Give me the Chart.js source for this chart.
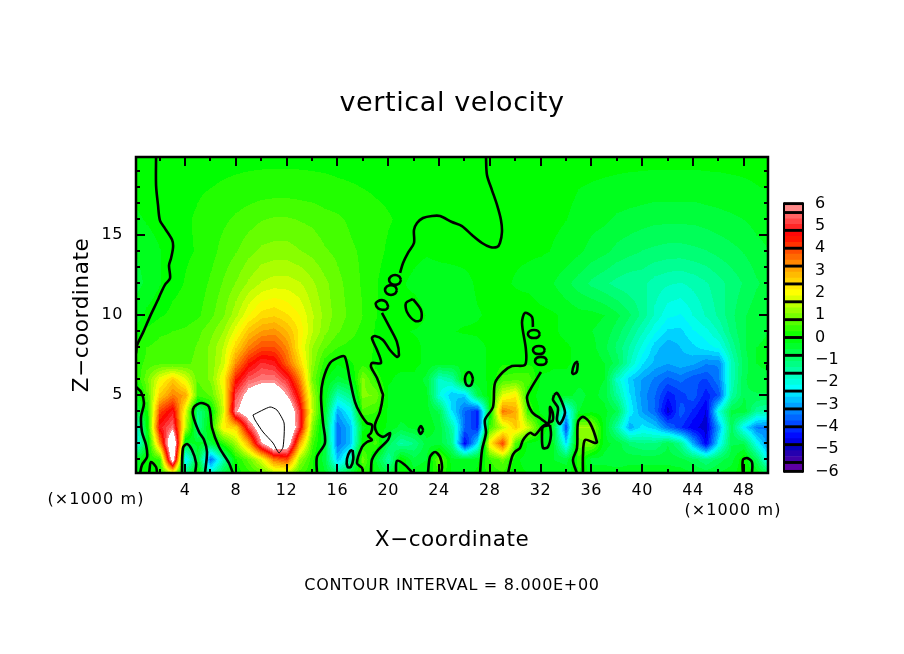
<!DOCTYPE html>
<html>
<head>
<meta charset="utf-8">
<title>vertical velocity</title>
<script src="https://cdn.jsdelivr.net/npm/chart.js@4"></script>
<style>
  html, body { margin: 0; padding: 0; background: #fff; }
  #wrap { position: relative; width: 904px; height: 654px; overflow: hidden; }
  #main { position: absolute; left: 0; top: 0; }
  #bar { position: absolute; left: 770px; top: 190px; }
</style>
</head>
<body>
<div id="wrap">
  <canvas id="main" width="904" height="654"></canvas>
  <canvas id="bar" width="70" height="295"></canvas>
</div>
<script>
// grid nodes, km
const xNodes = [0,1,2,3,4,5,6,7,8,9,10,11,12,13,14,15,16,17,18,19,20,21,22,23,24,25,26,27,28,29,30,31,32,33,34,35,36,37,38,39,40,41,42,43,44,45,46,47,48,49,50];
const zNodes = [0,1,2,3,4,5,6,7,8,9,10,12,14,16,18,20];

// velocity, one list per height
const w00 = [-.2,-.1,.1,.7,-.8,.1,-1.5,-.5,-.05,.2,.5,1,1,.4,.1,-.3,-.9,-.4,.2,-.1,-.5,.05,-.2,-.1,.3,-.1,-.2,-.05,.2,.3,-.05,-.1,-.2,-.2,-.2,.1,-.2,-.2,-.2,-.2,-.2,-.2,-.2,-.2,-.3,-.4,-.3,-.2,.1,-.1,-.6];
const w01 = [-.3,.05,.4,7,-2.5,-.5,-3.5,-1.5,.1,.8,1.8,3.5,4,1.2,.2,-.6,-2.8,-1.5,.8,-.4,-1.5,.1,-.6,-.4,.8,-.3,-.4,-.2,.4,.8,-.05,-.3,-.4,-.4,-.5,.3,-.5,-.5,-.6,-.5,-.5,-.5,-.5,-.6,-.8,-1.2,-.8,-.5,.1,-.8,-2.5];
const w02 = [-2.5,-.4,3.2,8,-.5,-.3,-.5,.3,1.3,3,5.9,7.5,7,3,.5,-.5,-3.5,-2.8,.1,.5,-.8,-1.5,-1.2,-.5,-.5,-1.2,-4.5,-2.5,2.2,4,.6,-.2,-.3,-.4,-2.5,.8,1,-.3,-.5,-1,-1.2,-1.2,-.7,-1.3,-3,-4.6,-2.4,-.7,-.7,-2.2,-3.4];
const w03 = [-2.2,-.1,4.8,5.6,1.5,-1.3,.1,2.2,2.5,5.2,7,8,8,5,1,-.7,-3.5,-2.8,-.2,.1,-.2,-.5,-.3,-.2,-.5,-1.5,-3.6,-4.2,.5,1.5,2.6,1.6,.2,-.5,-3.8,1.2,1.2,-.3,-1.5,-3,-2.4,-2.7,-3.5,-4.1,-4.6,-4.8,-3,-.8,-2.4,-3.4,-3.4];
const w04 = [-.8,.1,4,4.8,1.8,-1.2,-.2,1.7,5.9,7,8,8.5,7.5,5,1.5,-.4,-3,-2.2,.6,.4,-.2,-.2,-.3,-.3,-.7,-2.5,-3.6,-4.2,-.2,3.5,3,.4,-.2,-.2,-2.5,-.4,-.2,-.3,-.7,-2.3,-3.1,-3.6,-4.8,-3.7,-4.2,-4.7,-2,-.6,-.5,-1.4,-1.6];
const w05 = [-.5,.6,2.6,3.4,3,.5,.7,1.8,5.3,6.5,7,7,6,4.2,1.3,-.2,-1.7,-1.2,1,.9,-.2,-.2,-.2,-.3,-2,-2.8,-2.7,-.7,.05,1.8,2.2,.1,-.3,-.3,-.3,-.5,-.3,-.5,-1.4,-2.5,-3.2,-3.6,-4.3,-4,-3.7,-4.3,-3.8,-1.5,-.7,-.7,-.7];
const w06 = [0,.9,1.9,2.6,1.8,.7,1,2.1,4.4,5.4,5.7,5.7,5,3.4,.9,-.1,-.5,-.3,1,.3,-.1,-.2,-.2,-.5,-1.8,-1.5,.05,-.2,-.1,.5,.6,.6,-.2,-.2,-.2,-.3,-.3,-.4,-1.8,-2.7,-3.1,-3.4,-3.7,-3.5,-3.8,-3.9,-3.4,-1.7,-.7,-.5,-.5];
const w07 = [.2,.5,.6,.55,.6,.75,1,1.6,3.3,4.4,5,4.8,3.7,2.5,1.1,.25,-.1,.1,.3,.05,-.1,-.05,-.05,-.2,-.3,-.3,-.3,-.2,-.1,.1,.1,.1,0,-.1,-.1,-.2,-.2,-.4,-.8,-1.7,-2.5,-2.9,-3.05,-2.9,-3,-3.3,-3.3,-1.7,-.8,-.4,-.3];
const w08 = [.1,.4,.5,.5,.55,.7,1,1.5,2.5,3.4,3.9,3.9,3.3,2.1,1.2,.7,.4,.3,.25,.1,.02,0,-.05,-.2,-.3,-.3,-.3,-.2,-.1,-.05,.05,.1,0,-.05,-.1,-.2,-.3,-.6,-1,-1.5,-2.1,-2.7,-3,-2.8,-2.6,-2.4,-2.2,-1.4,-.7,-.4,-.3];
const w09 = [-.1,.2,.35,.4,.45,.6,.85,1.2,1.9,2.7,3.1,3.2,2.8,2.2,1.5,1,.7,.5,.3,.1,0,-.1,-.15,-.2,-.2,-.15,-.1,-.1,-.05,-.05,-.05,.05,-.02,-.1,-.2,-.25,-.4,-.5,-.8,-1.2,-1.7,-2.2,-2.6,-2.6,-2.3,-2.1,-1.7,-1.1,-.7,-.5,-.4];
const w10 = [-.3,-.05,.1,.2,.25,.35,.6,.9,1.4,2,2.4,2.5,2.3,2,1.5,1.1,.8,.6,.4,.15,0,-.1,.02,-.15,-.2,-.2,-.2,-.15,-.1,-.05,-.03,.02,-.05,-.1,-.2,-.3,-.3,-.4,-.6,-.9,-1.3,-1.8,-2.2,-2.3,-2,-1.7,-1.4,-1,-.7,-.5,-.4];
const w12 = [-.5,-.35,-.15,.05,.15,.25,.45,.7,.95,1.25,1.5,1.6,1.6,1.5,1.25,1,.75,.55,.35,.15,.02,-.1,-.2,-.3,-.3,-.25,-.2,-.1,-.1,-.1,-.15,-.2,-.3,-.4,-.6,-.8,-1,-1.15,-1.3,-1.4,-1.4,-1.6,-1.7,-1.75,-1.65,-1.5,-1.3,-1.1,-.9,-.7,-.55];
const w14 = [-.4,-.3,-.15,.02,.1,.15,.3,.5,.65,.85,1,1.05,1.05,.95,.85,.7,.6,.45,.35,.2,.1,.02,-.05,-.1,-.05,-.05,-.05,-.05,-.05,-.1,-.1,-.1,-.1,-.15,-.2,-.35,-.5,-.6,-.75,-.85,-.95,-1,-1.05,-1.05,-1,-.95,-.85,-.75,-.65,-.5,-.4];
const w16 = [-.2,-.1,0,.05,.1,.17,.27,.35,.45,.55,.65,.7,.7,.65,.6,.5,.45,.35,.25,.2,.15,.1,.05,0,0,0,0,0,0,-.05,-.05,-.05,-.05,-.1,-.13,-.2,-.3,-.35,-.45,-.5,-.55,-.6,-.6,-.6,-.6,-.55,-.5,-.45,-.4,-.3,-.25];
const w18 = [-.05,.02,.05,.05,.05,.1,.13,.16,.19,.22,.24,.25,.25,.24,.22,.2,.17,.15,.13,.1,.08,.05,.05,.03,.03,0,0,0,-.03,-.03,-.03,-.03,-.03,-.05,-.08,-.13,-.15,-.17,-.19,-.21,-.22,-.24,-.24,-.24,-.24,-.22,-.21,-.19,-.17,-.14,-.12];
const w20 = [-.03,-.02,.05,.05,.05,.05,.05,.05,.05,.05,.05,.05,.05,.05,.05,.05,.05,.05,.05,.05,.05,.05,.05,.05,.05,.05,.05,.05,-.05,-.05,-.05,-.05,-.05,-.05,-.05,-.05,-.05,-.05,-.05,-.05,-.05,-.05,-.05,-.05,-.05,-.05,-.05,-.05,-.05,-.05,-.05];
const gridRows = [w00,w01,w02,w03,w04,w05,w06,w07,w08,w09,w10,w12,w14,w16,w18,w20];

// zero contours, [x km, z km]
const c0Left = [[1.72,19.9],[1.72,18.1],[1.87,16.9],[2.03,15.9],[2.43,15.4],[2.98,14.7],[3.06,14.25],[2.9,13.55],[2.74,13.1],[2.82,12.3],[2.43,11.9],[2.03,11.25],[1.87,10.95],[1.24,9.9],[.69,8.9],[.22,8.1],[.14,7.6]];
const c0Edge = [[.14,5.5],[.54,5.19],[.77,4.5],[.54,3.63],[.61,2.69],[.93,1.88],[1.01,1.13],[.61,.63],[.46,.1]];
const c0Arch1 = [[1.17,.1],[1.32,.81],[1.72,.5],[1.8,.1]];
const c0Arch2 = [[3.76,.1],[3.84,1.69],[4.16,1.94],[4.55,1.56],[4.87,.75],[4.79,.1]];
const c0Arch3 = [[5.57,.1],[5.73,1.44],[5.5,2.19],[5.1,2.69],[4.63,3.75],[4.71,4.25],[5.26,4.5],[5.89,4.25],[6.13,2.94],[6.68,1.75],[7.46,.75],[7.78,.1]];
const c0Arch4 = [[14.39,.1],[14.39,1.13],[15.02,2],[14.87,3.25],[14.71,4.88],[14.87,5.94],[15.42,7],[16.2,7.38],[16.6,7.38],[16.99,5.94],[17.39,4.56],[17.78,3.88],[18.33,3.25],[18.72,3.13],[18.65,2.63],[18.41,2.44],[18.72,2.19],[18.33,2.06],[17.94,1.75],[17.54,.75],[17.94,.44],[18.02,.1]];
const c0Wiggle = [[18.65,.1],[18.72,.94],[19.2,1.56],[19.98,2.19],[20.14,2.63],[19.59,2.38],[19.12,2.63],[18.96,3.13],[19.35,3.94],[19.59,5],[19.51,5.19],[19.12,6.06],[18.65,6.75],[18.72,7],[19.43,7],[19.12,7.81],[18.72,8.56],[18.96,8.69],[19.59,8.44],[20.14,7.81],[20.69,7.38],[20.85,7.5],[20.69,8.31],[20.14,9.19],[19.51,10.13]];
const c0Top = [[27.7,19.9],[27.78,18.75],[28.17,17.81],[28.57,16.88],[28.88,15.94],[28.96,15.19],[28.8,14.5],[28.57,14.25],[28.02,14.25],[27.39,14.5],[26.6,15],[25.81,15.56],[25.02,15.81],[24.08,16.19],[23.45,16.19],[22.74,16.06],[22.27,15.75],[22.03,15.31],[22.03,14.5],[21.56,13.88],[21.17,13.25],[20.93,12.63]];
const c0Loop1 = [[21.01,12.19],[20.87,12.41],[20.54,12.5],[20.21,12.41],[20.07,12.19],[20.21,11.97],[20.54,11.88],[20.87,11.97],[21.01,12.19]];
const c0Loop2 = [[20.69,11.56],[20.55,11.78],[20.22,11.87],[19.89,11.78],[19.75,11.56],[19.89,11.34],[20.22,11.25],[20.55,11.34],[20.69,11.56]];
const c0Loop3 = [[20.01,10.5],[19.85,10.8],[19.51,10.93],[19.17,10.85],[19.01,10.7],[19.2,10.42],[19.51,10.33],[19.85,10.35],[20.01,10.5]];
const c0Loop4 = [[21.95,11],[22.58,10.31],[22.58,9.69],[22.11,9.63],[21.48,10.19],[21.4,10.75],[21.95,11]];
const c0Loop5 = [[17.2,1.55],[17.25,1],[17.05,.5],[16.8,.5],[16.75,1],[17,1.5],[17.2,1.55]];
const c0Loop6 = [[26.68,6],[26.55,6.3],[26.36,6.44],[26.15,6.3],[26.04,6],[26.15,5.65],[26.36,5.56],[26.55,5.65],[26.68,6]];
const c0Loop7 = [[22.76,2.81],[22.58,3.06],[22.4,2.81],[22.58,2.56],[22.76,2.81]];
const c0Arch5 = [[20.61,.1],[20.69,.88],[21.32,.63],[21.95,.1]];
const c0Arch6 = [[23.13,.1],[23.29,1.13],[23.69,1.44],[24.08,1.13],[24.24,.5],[24.16,.1]];
const c0Big1 = [[27.23,.1],[27.39,1.56],[27.7,2.63],[27.62,3.44],[28.25,4.25],[28.41,5.75],[29.04,6.44],[29.75,6.81],[30.77,6.88],[30.85,7.81],[30.54,9.5],[30.77,10.13],[31.32,9.88],[31.4,9.25]];
const c0Big2 = [[32.03,6.44],[31.17,5.31],[30.93,4.81],[31.32,3.94],[31.95,3.56],[32.58,3.25],[32.74,3.75],[32.74,4.25],[32.95,3.9],[32.95,3.4],[32.58,3.25],[32.11,3],[31.56,2.5],[31.17,2.63],[30.62,2.19],[30.38,1.69],[29.98,1.44],[29.75,1.13],[29.43,.1]];
const c0Loop8 = [[32.74,3.13],[32.82,2.5],[32.58,1.75],[32.19,1.69],[32.11,2.5],[32.19,3],[32.74,3.13]];
const c0Leaf = [[33.06,5],[33.29,5.13],[33.68,4.56],[33.92,3.88],[33.53,3.19],[33.29,3.44],[33.37,4.19],[32.98,4.69],[33.06,5]];
const c0Arch7 = [[34.87,.1],[34.55,.94],[34.87,1.69],[34.95,3.31],[35.34,3.63],[35.89,3.25],[36.44,2.06],[36.29,2],[35.5,2.19],[35.34,1.25],[35.34,.1]];
const c0Loop9 = [[31.95,8.81],[31.8,9],[31.48,9.06],[31.15,9],[31,8.81],[31.15,8.62],[31.48,8.56],[31.8,8.62],[31.95,8.81]];
const c0Loop10 = [[32.34,7.81],[32.2,8],[31.87,8.06],[31.54,8],[31.4,7.81],[31.54,7.62],[31.87,7.56],[32.2,7.62],[32.34,7.81]];
const c0Loop11 = [[32.5,7.13],[32.36,7.32],[32.03,7.38],[31.7,7.32],[31.56,7.13],[31.7,6.94],[32.03,6.88],[32.36,6.94],[32.5,7.13]];
const c0Loop12 = [[34.93,7],[34.85,7.07],[34.65,6.9],[34.49,6.4],[34.6,6.31],[34.85,6.45],[34.93,7]];
const c0Arch8 = [[47.93,.1],[47.93,.94],[48.25,1.06],[48.65,.81],[48.65,.1]];
const c0Edge2 = [[49.85,6.9],[49.85,6.55]];
const zeroContours = [c0Left,c0Edge,c0Arch1,c0Arch2,c0Arch3,c0Arch4,c0Wiggle,c0Top,c0Loop1,c0Loop2,c0Loop3,c0Loop4,c0Loop5,c0Loop6,c0Loop7,c0Arch5,c0Arch6,c0Big1,c0Big2,c0Loop8,c0Leaf,c0Arch7,c0Loop9,c0Loop10,c0Loop11,c0Loop12,c0Arch8,c0Edge2];

// the +8 contour inside the white core
const c8Core = [[9.35,3.75],[10.69,4.25],[11.24,4.06],[11.8,3.25],[11.72,1.75],[11.4,1.38],[10.93,2],[10.14,2.69],[9.51,3.44],[9.35,3.75]];

// axis ticks
const xTickValues = [2,4,6,8,10,12,14,16,18,20,22,24,26,28,30,32,34,36,38,40,42,44,46,48];
const xMajorTicks = [4,8,12,16,20,24,28,32,36,40,44,48];
const zTickValues = [1,2,3,4,5,6,7,8,9,10,11,12,13,14,15,16,17,18,19];
const zMajorTicks = [5,10,15];

// colour key
const barLabels = [-6,-5,-4,-3,-2,-1,0,1,2,3,4,5,6];
const barEdges = [-6,-5.6,-4.8,-4,-3.2,-2.4,-1.6,-.8,0,.8,1.6,2.4,3.2,4,4.8,5.6,6];

const stopValues = [-6,-5.3,-4.9,-4.5,-3,-2.3,-1,0,2,3,4.6,6];
const stopColors = [[110,0,160],[50,0,170],[0,0,190],[0,0,255],[0,170,255],[0,255,255],[0,255,110],[0,255,0],[255,255,0],[255,170,0],[255,0,0],[255,160,160]];
const bandStep = 0.8 / 3;

function rampColor(v) {
  if (v > 6) return [255, 255, 255];
  if (v < -6) return [70, 0, 110];
  let k = 0;
  while (k < stopValues.length - 2 && v > stopValues[k + 1]) k++;
  const t = (v - stopValues[k]) / (stopValues[k + 1] - stopValues[k]);
  return stopColors[k].map((c, n) => Math.round(c + (stopColors[k + 1][n] - c) * t));
}

// value -> colour of its shaded band
function bandColor(v) {
  if (v > 6 || v < -6) return rampColor(v);
  return rampColor(Math.round(v / bandStep) * bandStep);
}

const toPoints = line => line.map(p => ({ x: p[0], y: p[1] }));
const FONT = '"DejaVu Sans", sans-serif';

// paints the field between the node elements the library has placed
const shadePlugin = {
  id: 'shade',
  beforeDraw(chart) {
    chart.ctx.letterSpacing = '0.6px';
  },
  beforeDatasetsDraw(chart) {
    const nodes = chart.getDatasetMeta(0).data;
    const area = chart.chartArea;
    const nx = xNodes.length;
    const off = document.createElement('canvas');
    off.width = chart.width;
    off.height = chart.height;
    const octx = off.getContext('2d');
    const img = octx.createImageData(off.width, off.height);
    for (let j = 0; j < zNodes.length - 1; j++) {
      for (let i = 0; i < nx - 1; i++) {
        const p00 = nodes[j * nx + i], p10 = nodes[j * nx + i + 1], p01 = nodes[(j + 1) * nx + i];
        const a = gridRows[j][i], b = gridRows[j][i + 1], c = gridRows[j + 1][i], d = gridRows[j + 1][i + 1];
        const left = Math.max(Math.floor(p00.x), Math.floor(area.left));
        const right = Math.min(Math.ceil(p10.x), Math.ceil(area.right));
        const top = Math.max(Math.floor(p01.y), Math.floor(area.top));
        const bottom = Math.min(Math.ceil(p00.y), Math.ceil(area.bottom));
        for (let py = top; py <= bottom; py++) {
          const ty = Math.min(1, Math.max(0, (p00.y - py) / (p00.y - p01.y)));
          for (let px = left; px <= right; px++) {
            const tx = Math.min(1, Math.max(0, (px - p00.x) / (p10.x - p00.x)));
            const v = (a * (1 - tx) + b * tx) * (1 - ty) + (c * (1 - tx) + d * tx) * ty;
            const col = bandColor(v);
            const at = (py * off.width + px) * 4;
            img.data[at] = col[0];
            img.data[at + 1] = col[1];
            img.data[at + 2] = col[2];
            img.data[at + 3] = 255;
          }
        }
      }
    }
    octx.putImageData(img, 0, 0);
    const ctx = chart.ctx;
    ctx.save();
    ctx.beginPath();
    ctx.rect(area.left, area.top, area.right - area.left, area.bottom - area.top);
    ctx.clip();
    ctx.drawImage(off, 0, 0);
    ctx.restore();
  }
};

// frame, inward ticks and the loose captions
const framePlugin = {
  id: 'frame',
  afterDraw(chart) {
    const { ctx, chartArea: area, scales } = chart;
    ctx.save();
    ctx.strokeStyle = '#000';
    ctx.lineWidth = 2;
    ctx.beginPath();
    for (const v of xTickValues) {
      const px = Math.round(scales.x.getPixelForValue(v));
      const len = xMajorTicks.includes(v) ? 9 : 4;
      ctx.moveTo(px, area.bottom); ctx.lineTo(px, area.bottom - len);
      ctx.moveTo(px, area.top); ctx.lineTo(px, area.top + len);
    }
    for (const v of zTickValues) {
      const py = Math.round(scales.y.getPixelForValue(v));
      const len = zMajorTicks.includes(v) ? 9 : 4;
      ctx.moveTo(area.left, py); ctx.lineTo(area.left + len, py);
      ctx.moveTo(area.right, py); ctx.lineTo(area.right - len, py);
    }
    ctx.stroke();
    ctx.lineWidth = 2.5;
    ctx.strokeRect(area.left, area.top, area.right - area.left, area.bottom - area.top);

    ctx.fillStyle = '#000';
    ctx.textBaseline = 'middle';
    ctx.textAlign = 'center';
    ctx.font = '16px ' + FONT;
    ctx.letterSpacing = '1.1px';
    ctx.fillText('(×1000 m)', 96, 500);
    ctx.fillText('(×1000 m)', 733, 511);
    ctx.letterSpacing = '0.7px';
    ctx.fillText('CONTOUR INTERVAL = 8.000E+00', 452, 586);
    ctx.restore();
  }
};

const datasets = [{
  label: 'w',
  data: zNodes.flatMap((z, j) => xNodes.map((x, i) => ({ x: x, y: z, w: gridRows[j][i] }))),
  pointRadius: 0,
  showLine: false
}];
for (const line of zeroContours) {
  datasets.push({ data: toPoints(line), showLine: true, pointRadius: 0, borderColor: '#000', borderWidth: 2.6, tension: 0.3 });
}
datasets.push({ data: toPoints(c8Core), showLine: true, pointRadius: 0, borderColor: '#000', borderWidth: 1, tension: 0.2 });

new Chart(document.getElementById('main'), {
  type: 'scatter',
  data: { datasets },
  plugins: [shadePlugin, framePlugin],
  options: {
    responsive: false,
    animation: false,
    devicePixelRatio: 1,
    events: [],
    layout: { padding: { right: 136 } },
    plugins: {
      legend: { display: false },
      tooltip: { enabled: false },
      title: {
        display: true,
        text: 'vertical velocity',
        fullSize: false,
        color: '#000',
        font: { family: FONT, size: 27, weight: 'normal' },
        padding: { top: 88, bottom: 36.6 }
      }
    },
    scales: {
      x: {
        type: 'linear',
        min: 0.14,
        max: 49.91,
        afterBuildTicks: s => { s.ticks = xTickValues.map(v => ({ value: v })); },
        afterFit: s => { s.height = 181; },
        grid: { display: false },
        border: { display: false },
        ticks: {
          autoSkip: false,
          maxRotation: 0,
          padding: 0,
          color: '#000',
          font: { family: FONT, size: 16 },
          callback: v => (xMajorTicks.includes(v) ? String(v) : '')
        },
        title: {
          display: true,
          text: 'X\u2212coordinate',
          color: '#000',
          font: { family: FONT, size: 21.5 },
          padding: { top: 0, bottom: 101 }
        }
      },
      y: {
        type: 'linear',
        min: 0.125,
        max: 19.875,
        afterBuildTicks: s => { s.ticks = zTickValues.map(v => ({ value: v })); },
        afterFit: s => { s.width = 136; },
        grid: { display: false },
        border: { display: false },
        ticks: {
          autoSkip: false,
          padding: 5,
          color: '#000',
          font: { family: FONT, size: 16 },
          callback: v => (zMajorTicks.includes(v) ? String(v) : '')
        },
        title: {
          display: true,
          text: 'Z\u2212coordinate',
          color: '#000',
          font: { family: FONT, size: 21.5 },
          padding: { top: 70, bottom: 0 }
        }
      }
    }
  }
});

// colour key: one floating bar per shade, thin black bars on the box edges
const keyDatasets = [];
for (let e = 0; e < barEdges.length - 1; e++) {
  const lo = barEdges[e], hi = barEdges[e + 1];
  const n = hi - lo < 0.5 ? 1 : 3;
  for (let s = 0; s < n; s++) {
    const a = lo + (hi - lo) * s / n, b = lo + (hi - lo) * (s + 1) / n;
    const col = rampColor((a + b) / 2);
    keyDatasets.push({ data: [[a, b]], backgroundColor: `rgb(${col[0]},${col[1]},${col[2]})`, borderWidth: 0 });
  }
}
for (const e of barEdges) {
  keyDatasets.push({ data: [[e - 0.05, e + 0.05]], backgroundColor: '#000', borderWidth: 0, clip: false, order: -1 });
}
const keySide = {
  id: 'keySide',
  afterDatasetsDraw(chart) {
    const { ctx, chartArea: area } = chart;
    ctx.save();
    ctx.fillStyle = '#000';
    ctx.fillRect(area.left - 1, area.top - 1, 2, area.bottom - area.top + 2);
    ctx.fillRect(area.right - 1, area.top - 1, 2, area.bottom - area.top + 2);
    ctx.restore();
  }
};

new Chart(document.getElementById('bar'), {
  type: 'bar',
  data: { labels: ['w'], datasets: keyDatasets },
  plugins: [keySide],
  options: {
    responsive: false,
    animation: false,
    devicePixelRatio: 1,
    events: [],
    layout: { padding: { left: 14, top: 8, bottom: 8, right: 0 } },
    datasets: { bar: { grouped: false, barPercentage: 1, categoryPercentage: 1 } },
    plugins: { legend: { display: false }, tooltip: { enabled: false } },
    scales: {
      x: { display: false },
      y: {
        position: 'right',
        min: -6,
        max: 6,
        afterBuildTicks: s => { s.ticks = barLabels.map(v => ({ value: v })); },
        afterFit: s => { s.width = 37; },
        grid: { display: false },
        border: { display: false },
        ticks: {
          padding: 4,
          color: '#000',
          font: { family: FONT, size: 16 },
          callback: v => String(v).replace('-', '\u2212')
        }
      }
    }
  }
});
</script>
</body>
</html>
